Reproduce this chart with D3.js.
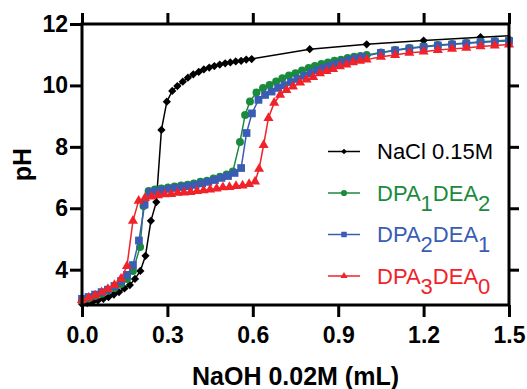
<!DOCTYPE html>
<html>
<head>
<meta charset="utf-8">
<script src="https://cdn.jsdelivr.net/npm/d3@7"></script>
<style>
  body { margin: 0; background: #fff; }
  svg { font-family: "Liberation Sans", Arial, Helvetica, sans-serif; }
</style>
</head>
<body>
<div id="chart"></div>
<script>
// titration curves, values
const naclVolume = [0, 0.019, 0.037, 0.056, 0.075, 0.093, 0.112, 0.130, 0.149, 0.168,
  0.186, 0.205, 0.223, 0.242, 0.261, 0.279, 0.298, 0.317, 0.335, 0.354,
  0.372, 0.391, 0.410, 0.428, 0.447, 0.465, 0.484, 0.503, 0.521, 0.540,
  0.559, 0.577, 0.596, 0.8, 1.0, 1.2, 1.4, 1.6];
const naclPH = [2.88, 2.92, 2.95, 3.00, 3.05, 3.11, 3.19, 3.27, 3.39, 3.50,
  3.70, 3.96, 4.45, 5.59, 6.20, 8.55, 9.47, 9.82, 9.98, 10.12,
  10.25, 10.36, 10.44, 10.52, 10.58, 10.63, 10.68, 10.72, 10.75, 10.78,
  10.80, 10.84, 10.86, 11.18, 11.34, 11.46, 11.57, 11.66];

const dpa1Volume = [0, 0.023, 0.046, 0.069, 0.091, 0.114, 0.137, 0.158, 0.179, 0.204,
  0.216, 0.234, 0.256, 0.279, 0.302, 0.325, 0.348, 0.371, 0.393, 0.416,
  0.439, 0.462, 0.485, 0.508, 0.530, 0.555, 0.573, 0.590, 0.613, 0.636,
  0.659, 0.682, 0.704, 0.727, 0.750, 0.773, 0.796, 0.818, 0.841, 0.864,
  0.887, 0.910, 0.933, 0.956, 0.978, 1.0, 1.05, 1.1, 1.15, 1.2,
  1.25, 1.3, 1.35, 1.4, 1.45, 1.5];
const dpa1PH = [2.99, 3.06, 3.14, 3.22, 3.31, 3.40, 3.53, 3.70, 3.96, 4.74,
  6.07, 6.56, 6.61, 6.64, 6.68, 6.71, 6.74, 6.77, 6.81, 6.86,
  6.90, 6.97, 7.03, 7.10, 7.20, 8.16, 9.04, 9.48, 9.77, 9.92,
  10.01, 10.13, 10.23, 10.32, 10.40, 10.49, 10.57, 10.63, 10.70, 10.75,
  10.80, 10.84, 10.89, 10.93, 10.96, 10.99, 11.07, 11.15, 11.22, 11.27,
  11.32, 11.35, 11.38, 11.42, 11.45, 11.48];

const dpa2Volume = [0, 0.023, 0.046, 0.069, 0.091, 0.114, 0.137, 0.158, 0.179, 0.200,
  0.220, 0.239, 0.262, 0.285, 0.307, 0.330, 0.353, 0.376, 0.399, 0.422,
  0.444, 0.467, 0.490, 0.513, 0.536, 0.559, 0.578, 0.597, 0.620, 0.643,
  0.666, 0.689, 0.711, 0.734, 0.757, 0.780, 0.803, 0.826, 0.848, 0.871,
  0.894, 0.917, 0.940, 0.962, 0.985, 1.05, 1.1, 1.15, 1.2, 1.25,
  1.3, 1.35, 1.4, 1.45, 1.5];
const dpa2PH = [3.05, 3.11, 3.19, 3.27, 3.35, 3.47, 3.63, 3.83, 4.15, 4.95,
  6.12, 6.53, 6.56, 6.59, 6.63, 6.66, 6.69, 6.72, 6.76, 6.81,
  6.86, 6.92, 6.99, 7.05, 7.15, 7.31, 8.45, 9.09, 9.53, 9.69,
  9.80, 9.92, 10.01, 10.11, 10.21, 10.31, 10.40, 10.49, 10.57, 10.63,
  10.70, 10.76, 10.83, 10.88, 10.93, 11.06, 11.14, 11.20, 11.25, 11.30,
  11.33, 11.37, 11.40, 11.43, 11.45];

const dpa3Volume = [0, 0.023, 0.046, 0.069, 0.091, 0.114, 0.137, 0.158, 0.179, 0.199,
  0.221, 0.244, 0.267, 0.290, 0.313, 0.336, 0.358, 0.381, 0.404, 0.427,
  0.450, 0.473, 0.495, 0.518, 0.541, 0.564, 0.587, 0.608, 0.622, 0.638,
  0.655, 0.675, 0.696, 0.718, 0.741, 0.766, 0.789, 0.812, 0.836, 0.859,
  0.882, 0.906, 0.929, 0.952, 0.977, 1.0, 1.05, 1.1, 1.15, 1.2,
  1.25, 1.3, 1.35, 1.4, 1.45, 1.5];
const dpa3PH = [3.01, 3.08, 3.16, 3.26, 3.37, 3.50, 3.70, 4.12, 5.59, 6.24,
  6.33, 6.38, 6.42, 6.45, 6.46, 6.50, 6.51, 6.53, 6.56, 6.58,
  6.61, 6.64, 6.68, 6.69, 6.72, 6.74, 6.79, 6.87, 7.28, 8.06,
  8.94, 9.43, 9.69, 9.85, 9.96, 10.09, 10.19, 10.27, 10.39, 10.47,
  10.53, 10.62, 10.68, 10.75, 10.80, 10.84, 10.93, 10.99, 11.06, 11.10,
  11.15, 11.19, 11.22, 11.27, 11.30, 11.33];

const seriesNames = ["NaCl 0.15M", "DPA_1DEA_2", "DPA_2DEA_1", "DPA_3DEA_0"];
const seriesColors = ["#000000", "#1a8b3d", "#3a5cb3", "#f0222a"];
const xTicks = [0, 0.3, 0.6, 0.9, 1.2, 1.5];
const yTicks = [4, 6, 8, 10, 12];

const width = 527, height = 389;

let x = d3.scaleLinear().domain([0, 1.5]).range([82, 509]);
let y = d3.scaleLinear().domain([2.85, 12]).range([305, 24]);

var svg = d3.select("#chart")
  .append("svg")
  .attr("width", width)
  .attr("height", height);

svg.append("defs").append("clipPath")
  .attr("id", "plotClip")
  .append("rect")
  .attr("x", x(0) - 6)
  .attr("y", 0)
  .attr("width", x(1.5) - x(0) + 6)
  .attr("height", height);

const series = [
  {vol: naclVolume, ph: naclPH, symbol: d3.symbolSquare, size: 34, legendSize: 16, rotate: true, clip: true},
  {vol: dpa1Volume, ph: dpa1PH, symbol: d3.symbolCircle, size: 50, legendSize: 30},
  {vol: dpa2Volume, ph: dpa2PH, symbol: d3.symbolSquare, size: 60, legendSize: 30},
  {vol: dpa3Volume, ph: dpa3PH, symbol: d3.symbolTriangle, size: 44, legendSize: 22}
];

const line = d3.line()
  .x(d => x(d[0]))
  .y(d => y(d[1]));

series.forEach((s, i) => {
  const pts = s.vol.map((v, j) => [v, s.ph[j]]);
  const g = svg.append("g");
  if (s.clip) g.attr("clip-path", "url(#plotClip)");

  g.append("path")
    .datum(pts)
    .attr("d", line)
    .attr("fill", "none")
    .attr("stroke", seriesColors[i])
    .attr("stroke-width", 1.5);

  g.selectAll(".marker")
    .data(pts.filter(d => d[0] <= 1.5))
    .enter()
    .append("path")
    .attr("class", "marker")
    .attr("transform", d => `translate(${x(d[0])},${y(d[1])})` + (s.rotate ? " rotate(45)" : ""))
    .attr("d", d3.symbol().type(s.symbol).size(s.size))
    .attr("fill", seriesColors[i]);
});

// axes: ticks and labels from d3, frame drawn by hand
function styleAxis(g, fontSize) {
  g.select(".domain").remove();
  g.selectAll(".tick line").attr("stroke", "#000").attr("stroke-width", 3);
  g.selectAll(".tick text")
    .attr("fill", "#000")
    .style("font-size", fontSize + "px")
    .style("font-weight", "bold")
    .style("font-family", '"Liberation Sans", Arial, Helvetica, sans-serif');
}

svg.append("g")
  .attr("transform", `translate(0,${y(2.85)})`)
  .call(d3.axisBottom(x).tickValues(xTicks).tickFormat(d3.format(".1f")).tickSizeInner(12).tickSizeOuter(0).tickPadding(10))
  .call(g => styleAxis(g, 23));

svg.append("g")
  .attr("transform", `translate(0,${y(12)})`)
  .call(d3.axisTop(x).tickValues(xTicks).tickFormat("").tickSizeInner(11).tickSizeOuter(0))
  .call(g => styleAxis(g, 23));

svg.append("g")
  .attr("transform", `translate(${x(0)},0)`)
  .call(d3.axisLeft(y).tickValues(yTicks).tickSizeInner(12).tickSizeOuter(0).tickPadding(2))
  .call(g => styleAxis(g, 23));

svg.append("g")
  .attr("transform", `translate(${x(1.5)},0)`)
  .call(d3.axisRight(y).tickValues(yTicks.filter(t => t < 12)).tickFormat("").tickSizeInner(10).tickSizeOuter(0))
  .call(g => styleAxis(g, 23));

svg.append("rect")
  .attr("x", x(0))
  .attr("y", y(12))
  .attr("width", x(1.5) - x(0))
  .attr("height", y(2.85) - y(12))
  .attr("fill", "none")
  .attr("stroke", "#000")
  .attr("stroke-width", 3);

// axis titles
svg.append("text")
  .attr("x", (x(0) + x(1.5)) / 2)
  .attr("y", 385)
  .attr("text-anchor", "middle")
  .style("font-size", "25px")
  .style("font-weight", "bold")
  .text("NaOH 0.02M (mL)");

svg.append("text")
  .attr("transform", `translate(31,${(y(12) + y(2.85)) / 2}) rotate(-90)`)
  .attr("text-anchor", "middle")
  .style("font-size", "25px")
  .style("font-weight", "bold")
  .text("pH");

// legend
const legendY = [151.5, 193, 234.5, 276];
const legend = svg.append("g");

seriesNames.forEach((name, i) => {
  const s = series[i];
  const ly = legendY[i];
  legend.append("line")
    .attr("x1", 328).attr("x2", 360)
    .attr("y1", ly).attr("y2", ly)
    .attr("stroke", seriesColors[i])
    .attr("stroke-width", 1.5);
  legend.append("path")
    .attr("transform", `translate(344,${ly})` + (s.rotate ? " rotate(45)" : ""))
    .attr("d", d3.symbol().type(s.symbol).size(s.legendSize))
    .attr("fill", seriesColors[i]);

  const t = legend.append("text")
    .attr("x", 377)
    .attr("y", ly + 7.5)
    .attr("fill", seriesColors[i])
    .style("font-size", "22px");

  // "_n" marks a subscript digit
  let shift = 0;
  name.split(/(_\d)/).filter(p => p.length).forEach(p => {
    const sub = p[0] === "_";
    const target = sub ? 10 : 0;
    t.append("tspan")
      .attr("dy", target - shift)
      .text(sub ? p.slice(1) : p);
    shift = target;
  });
});
</script>
</body>
</html>
